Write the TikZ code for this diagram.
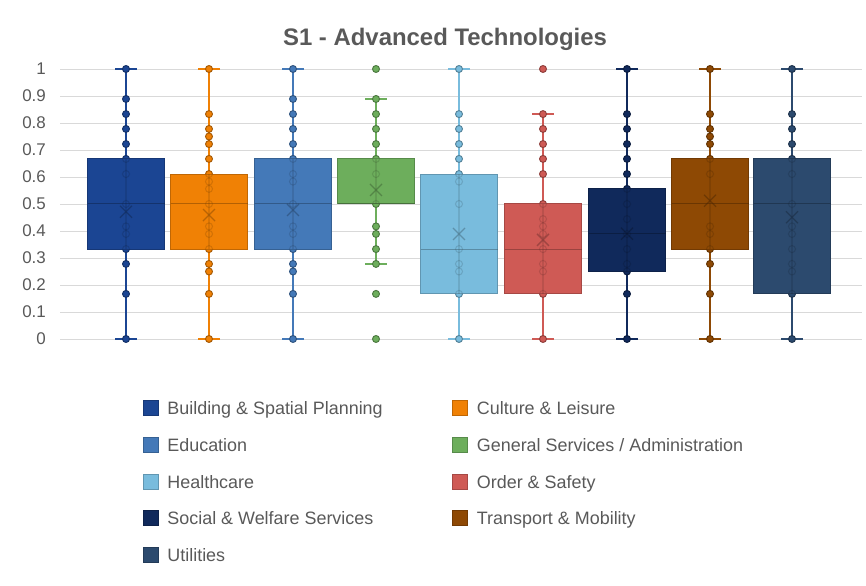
\documentclass[tikz,border=0pt]{standalone}
\usepackage{fontspec}
\setmainfont{Liberation Sans}
\usetikzlibrary{positioning}

\definecolor{bldg}{HTML}{1B4593}
\definecolor{cult}{HTML}{F08105}
\definecolor{educ}{HTML}{4479B8}
\definecolor{gens}{HTML}{6DAE5C}
\definecolor{hlth}{HTML}{79BCDD}
\definecolor{ords}{HTML}{CF5A55}
\definecolor{socw}{HTML}{10295B}
\definecolor{trns}{HTML}{8E4904}
\definecolor{util}{HTML}{2C4A6E}
\definecolor{txtgray}{HTML}{595959}
\definecolor{gridgray}{HTML}{D9D9D9}

\begin{document}
\begin{tikzpicture}[x=1bp, y=1bp,
  lbl/.style={font=\fontsize{17}{20}\selectfont, text=txtgray, anchor=east, inner sep=0pt},
  legtxt/.style={font=\fontsize{18}{21}\selectfont, text=txtgray, inner sep=0pt, text height=12.5bp, text depth=0bp},
  legbox/.style={minimum size=15bp, inner sep=0pt, draw=#1!80!black, fill=#1}]
\useasboundingbox (0,0) rectangle (866,586);

% Title
\node[font=\bfseries\fontsize{24}{28}\selectfont, text=txtgray] (title) at (445,547) {S1 - Advanced Technologies};

% Grid and value axis
\foreach \i/\t in {0/0, 1/0.1, 2/0.2, 3/0.3, 4/0.4, 5/0.5, 6/0.6, 7/0.7, 8/0.8, 9/0.9, 10/1} {
  \draw[gridgray, line width=0.8bp] (60,{247+27*\i}) -- (862,{247+27*\i});
  \node[lbl] (y\i) at (46,{247+27*\i}) {\t};
}

% Boxes: centre/colour/min/q1/median/q3/max/mean/points
\foreach \cx/\col/\lo/\qa/\md/\qb/\hi/\mn/\pts in {
  126/bldg/0/0.333/0.5/0.667/1/0.471/{1,0.889,0.833,0.778,0.722,0.667,0.611,0.5,0.417,0.389,0.333,0.278,0.167,0},
  209/cult/0/0.333/0.5/0.611/1/0.459/{1,0.833,0.778,0.75,0.722,0.667,0.611,0.583,0.556,0.5,0.417,0.389,0.333,0.278,0.25,0.167,0},
  293/educ/0/0.333/0.5/0.667/1/0.478/{1,0.889,0.833,0.778,0.722,0.667,0.611,0.583,0.5,0.417,0.389,0.333,0.278,0.25,0.167,0},
  376/gens/0.278/0.5/0.5/0.667/0.889/0.552/{1,0.889,0.833,0.778,0.722,0.667,0.611,0.5,0.417,0.389,0.333,0.278,0.167,0},
  459/hlth/0/0.167/0.333/0.611/1/0.389/{1,0.833,0.778,0.722,0.667,0.611,0.583,0.5,0.333,0.278,0.25,0.167,0},
  543/ords/0/0.167/0.333/0.5/0.833/0.367/{1,0.833,0.778,0.722,0.667,0.611,0.5,0.444,0.417,0.389,0.333,0.278,0.25,0.167,0},
  627/socw/0/0.25/0.389/0.556/1/0.39/{1,0.833,0.778,0.722,0.667,0.611,0.556,0.5,0.444,0.389,0.333,0.278,0.25,0.167,0},
  710/trns/0/0.333/0.5/0.667/1/0.512/{1,0.833,0.778,0.75,0.722,0.667,0.611,0.417,0.389,0.333,0.278,0.167,0},
  792/util/0/0.167/0.5/0.667/1/0.451/{1,0.833,0.778,0.722,0.667,0.611,0.5,0.417,0.389,0.333,0.278,0.25,0.167,0}} {
  % whisker and caps
  \draw[\col, line width=1.3bp] (\cx,{247+270*\lo}) -- (\cx,{247+270*\hi});
  \draw[\col, line width=1.3bp] ({\cx-11},{247+270*\lo}) -- ({\cx+11},{247+270*\lo});
  \draw[\col, line width=1.3bp] ({\cx-11},{247+270*\hi}) -- ({\cx+11},{247+270*\hi});
  % points
  \foreach \v in \pts
    \filldraw[fill=\col, draw=\col!75!black, line width=0.8bp] (\cx,{247+270*\v}) circle (3.5bp);
  % box
  \filldraw[fill=\col, draw=\col!80!black, line width=1bp]
    ({\cx-38.5},{247+270*\qa}) rectangle ({\cx+38.5},{247+270*\qb});
  % faint whisker and points seen through the box
  \draw[\col!50!black, opacity=0.2, line width=1.3bp] (\cx,{247+270*\qa}) -- (\cx,{247+270*\qb});
  \foreach \v in \pts
    \draw[\col!50!black, opacity=0.25, line width=1bp] (\cx,{247+270*\v}) circle (3.5bp);
  % median and mean
  \draw[\col!50!black, opacity=0.5, line width=1bp] ({\cx-38.5},{247+270*\md}) -- ({\cx+38.5},{247+270*\md});
  \draw[\col!50!black, opacity=0.45, line width=1.3bp]
    ({\cx-6},{247+270*\mn-6}) -- ({\cx+6},{247+270*\mn+6})
    ({\cx-6},{247+270*\mn+6}) -- ({\cx+6},{247+270*\mn-6});
}

% Legend
\foreach \n/\x/\y/\col/\t in {1/150.5/178/bldg/{Building \& Spatial Planning}, 2/460/178/cult/{Culture \& Leisure},
  3/150.5/141/educ/{Education}, 4/460/141/gens/{General Services / Administration},
  5/150.5/104/hlth/{Healthcare}, 6/460/104/ords/{Order \& Safety},
  7/150.5/68/socw/{Social \& Welfare Services}, 8/460/68/trns/{Transport \& Mobility},
  9/150.5/31/util/{Utilities}} {
  \node[legbox=\col] (key\n) at (\x,\y) {};
  \node[legtxt, right=9bp of key\n] (ktxt\n) {\t};
}

\end{tikzpicture}
\end{document}
